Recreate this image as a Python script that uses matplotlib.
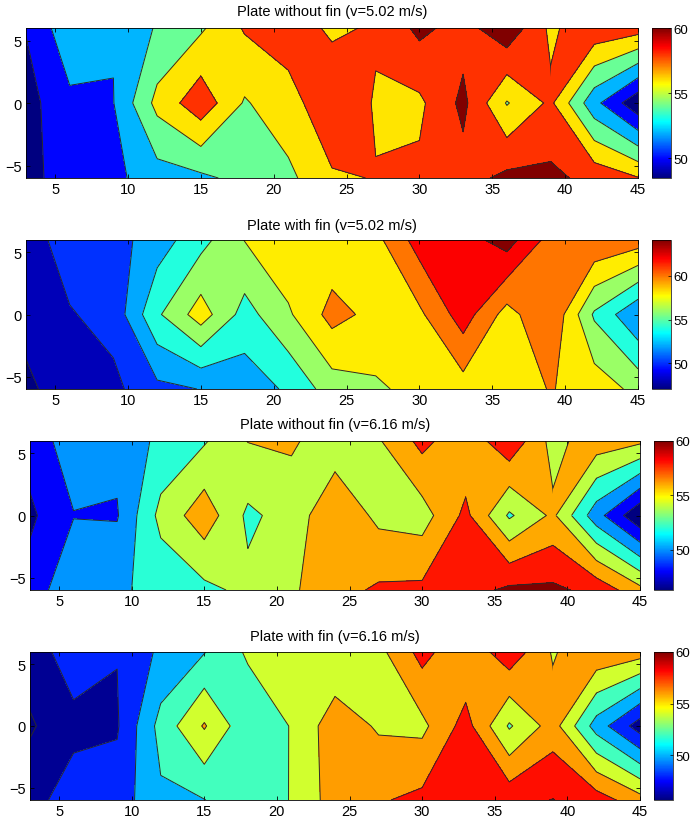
import numpy as np
from matplotlib import pyplot as plt
from matplotlib import cm
from matplotlib.colors import Normalize,LinearSegmentedColormap
from matplotlib.path import Path
from matplotlib.tri import Triangulation

plt.rcParams['font.family']=['Liberation Sans','DejaVu Sans']

# measurement grid
x=[3,6,9,12,15,18,21,24,27,30,33,36,39,42,45]
y=[-6,0,6]

titles=['Plate without fin (v=5.02 m/s)','Plate with fin (v=5.02 m/s)',
        'Plate without fin (v=6.16 m/s)','Plate with fin (v=6.16 m/s)']

# temperatures, rows y=-6,0,6
t1=[[49.3,51.0,51.5,53.1,53.6,54.6,55.5,57.8,58.06,58.4,59.2,60.5,60.45,59.4,58.1],
    [49.2,51.57,51.95,56.6,59.3,55.8,57.3,59.3,57.85,57.6,60.5,55.85,58.4,52.6,48.5],
    [50.1,53.4,52.1,54.2,55.7,58.2,58.9,57.7,58.2,60.5,59.2,61.5,57.6,59.5,58.9]]
t2=[[47.6,49.0,49.5,51.5,52.05,52.9,54.3,57.0,57.7,58.6,59.1,59.0,60.1,59.2,57.4],
    [48.6,49.85,50.7,55.67,59.0,55.2,57.7,60.7,59.4,59.6,63.0,59.2,61.9,55.7,52.2],
    [49.0,51.0,51.2,53.0,55.3,58.05,59.6,58.6,59.4,62.9,63.1,64.9,61.2,61.8,61.0]]
t3=[[48.9,51.5,51.7,52.6,53.5,54.5,55.7,57.3,58.3,58.43,59.2,60.4,60.4,59.4,56.6],
    [47.6,49.93,49.85,54.6,57.2,53.6,54.8,57.7,55.5,55.1,58.5,53.7,56.4,50.8,46.3],
    [48.9,51.0,50.5,52.5,53.8,56.05,56.3,54.8,55.8,58.6,56.5,59.6,55.3,57.2,56.4]]
t4=[[47.3,48.95,48.9,51.65,51.95,53.3,54.05,57.0,57.8,58.5,59.5,59.37,60.05,59.0,56.8],
    [45.75,47.45,47.8,52.7,56.2,52.5,54.1,57.2,55.75,55.5,58.8,53.75,56.9,51.1,47.0],
    [47.0,49.0,48.06,50.4,51.9,54.3,54.6,54.2,55.4,58.7,56.3,59.37,55.8,57.6,56.9]]
temps=[t1,t2,t3,t4]

# contour levels and colour limits of each panel
levels=[[48.5,50,52,54,56,58,60,70],
        [47.06,48,50,52,54,56,58,60,62,64,70],
        [46.3,48,50,52,54,56,58,60,70],
        [45.7,46,48,50,52,54,56,58,60,70]]
clims=[(48.5,60.0),(47.06,64.1),(46.3,60.0),(45.7,60.0)]
cbticks=[[50,55,60],[50,55,60],[50,55,60],[50,55,60]]

# saddle cells that matlab joins the other way (row,column of lower left node)
saddles=[[(1,12)],[],[(1,12)],[(1,12)]]

# pixel boxes: left,right,top,bottom
W,H=690.,820.
boxes=[(26,638,29,179),(26,638,241,390),(30,640,442,591),(30,640,653,801)]
cbars=[(652,671),(652,671),(654,673),(654,673)]
title_y=[12,226,425,637]

# matlab flavour of jet
mjet=LinearSegmentedColormap.from_list('mjet',[(0,(0,0,0.5)),(0.125,(0,0,1)),(0.375,(0,1,1)),
                                               (0.625,(1,1,0)),(0.875,(1,0,0)),(1,(0.5,0,0))])

def hole_path(cells):
    # whole plate with the saddle cells cut out
    verts=[(x[0],y[0]),(x[-1],y[0]),(x[-1],y[-1]),(x[0],y[-1]),(x[0],y[0])]
    codes=[Path.MOVETO,Path.LINETO,Path.LINETO,Path.LINETO,Path.CLOSEPOLY]
    for j,k in cells:
        x0,x1,y0,y1=x[k],x[k+1],y[j],y[j+1]
        verts+=[(x0,y0),(x0,y1),(x1,y1),(x1,y0),(x0,y0)]
        codes+=[Path.MOVETO,Path.LINETO,Path.LINETO,Path.LINETO,Path.CLOSEPOLY]
    return Path(verts,codes)
#end hole_path

fig=plt.figure(figsize=(W/100,H/100),dpi=100)
X,Y=np.meshgrid(x,y)

for i in range(4):
    l,r,t,b=boxes[i]
    ax=fig.add_axes([l/W,1-b/H,(r-l)/W,(b-t)/H])
    norm=Normalize(*clims[i])
    lev=levels[i]
    cols=[mjet(norm(v)) for v in lev[:-1]]
    Z=np.array(temps[i])
    ax.contourf(X,Y,Z,levels=lev,colors=cols)
    cs=ax.contour(X,Y,Z,levels=lev[1:-1],colors='#2a2a2a',linewidths=0.7)
    cs.set_clip_path(hole_path(saddles[i]),ax.transData)

    if saddles[i]:
        nx=len(x)
        tris=[]
        for j,k in saddles[i]:
            bl,br=j*nx+k,j*nx+k+1
            tris+=[[bl,br,br+nx],[bl,br+nx,bl+nx]]
        tri=Triangulation(X.ravel(),Y.ravel(),tris)
        ax.tricontourf(tri,Z.ravel(),levels=lev,colors=cols)
        ax.tricontour(tri,Z.ravel(),levels=lev[1:-1],colors='#2a2a2a',linewidths=0.7)

    ax.set_xlim(3,45)
    ax.set_ylim(-6,6)
    ax.set_xticks(np.arange(5,50,5))
    ax.set_yticks([-5,0,5])
    ax.tick_params(direction='in',top=True,right=True,labelsize=10.5,length=3,width=0.6,pad=3)
    for s in ax.spines.values():
        s.set_linewidth(0.6)
    fig.text((l+r)/2/W,1-title_y[i]/H,titles[i],ha='center',va='center',fontsize=10.5)

    c0,c1=cbars[i]
    cax=fig.add_axes([c0/W,1-b/H,(c1-c0)/W,(b-t)/H])
    cb=fig.colorbar(cm.ScalarMappable(norm=norm,cmap=mjet),cax=cax,ticks=cbticks[i])
    cb.ax.tick_params(labelsize=9.5,direction='in',length=2,width=0.5,pad=1.5)
    cb.outline.set_linewidth(0.5)

plt.savefig('out.png',dpi=100)
